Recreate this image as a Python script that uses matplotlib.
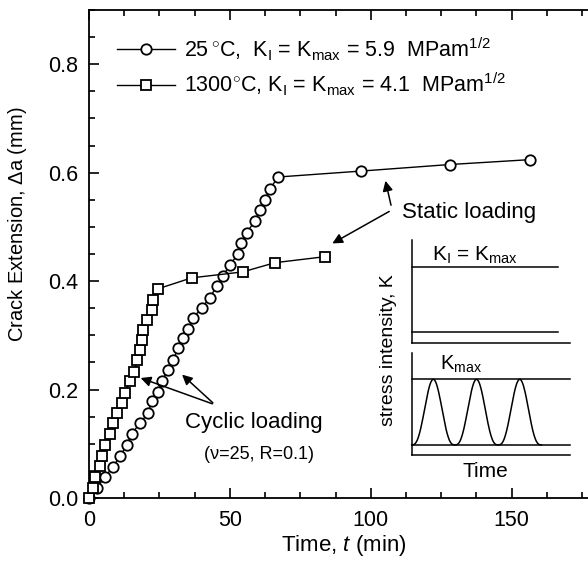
import numpy as np
import matplotlib
matplotlib.use("Agg")
import matplotlib.pyplot as plt
from matplotlib.ticker import MultipleLocator, FormatStrFormatter

plt.rcParams['font.family'] = ['Liberation Sans', 'DejaVu Sans']
plt.rcParams['mathtext.fontset'] = 'custom'
plt.rcParams['mathtext.rm'] = 'Liberation Sans'
plt.rcParams['mathtext.it'] = 'Liberation Sans:italic'
plt.rcParams['mathtext.bf'] = 'Liberation Sans:bold'

# 25 C, K_I = K_max = 5.9 MPam^1/2  (circles)
t_25 = [0, 2.7, 5.7, 8.6, 11.0, 13.4, 15.1, 18.1, 21.0, 22.2,
        24.6, 25.8, 28.0, 29.9, 31.7, 33.4, 35.2, 37.0, 40.0, 42.9,
        45.3, 47.6, 50.0, 52.9, 54.1, 55.9, 58.9, 60.6, 62.4, 64.2,
        67.1, 96.7, 128.0, 156.4]
da_25 = [0, 0.018, 0.039, 0.058, 0.077, 0.098, 0.118, 0.138, 0.157, 0.178,
         0.196, 0.215, 0.236, 0.255, 0.277, 0.295, 0.312, 0.332, 0.351, 0.369,
         0.391, 0.410, 0.430, 0.450, 0.470, 0.489, 0.511, 0.531, 0.550, 0.570,
         0.592, 0.603, 0.615, 0.624]

# 1300 C, K_I = K_max = 4.1 MPam^1/2  (squares)
t_1300 = [0, 1.3, 2.1, 3.9, 4.5, 5.7, 7.4, 8.5, 9.8, 11.6,
          12.8, 14.5, 16.0, 17.2, 18.0, 18.7, 19.3, 20.5, 22.2, 22.8,
          24.6, 36.4, 54.6, 66.0, 83.7]
da_1300 = [0, 0.018, 0.039, 0.059, 0.077, 0.098, 0.118, 0.138, 0.157, 0.175,
           0.194, 0.215, 0.233, 0.255, 0.273, 0.292, 0.310, 0.328, 0.347, 0.365,
           0.386, 0.406, 0.417, 0.434, 0.445]

# inset schematic levels (inset axes units)
static_hi, static_lo = 0.876, 0.573
cyc_hi, cyc_lo = 0.352, 0.047
n_cycles = 3

fig = plt.figure(figsize=(5.88, 5.62), dpi=100)
ax = fig.add_axes([89/588, 64/562, 510/588, 488/562])

mk = dict(color='black', markerfacecolor='white', markeredgecolor='black',
          markersize=7.5, markeredgewidth=1.3, linewidth=1.0, clip_on=False)
ax.plot(t_25, da_25, marker='o', zorder=3,
        label=r'25$\,^{\circ}$C,  K$_{\rm I}$ = K$_{\rm max}$ = 5.9  MPam$^{1/2}$', **mk)
ax.plot(t_1300, da_1300, marker='s', zorder=4,
        label=r'1300$^{\circ}$C, K$_{\rm I}$ = K$_{\rm max}$ = 4.1  MPam$^{1/2}$', **mk)

ax.set_xlim(0, 181)
ax.set_ylim(0, 0.9)
ax.xaxis.set_major_locator(MultipleLocator(50))
ax.xaxis.set_minor_locator(MultipleLocator(12.5))
ax.yaxis.set_major_locator(MultipleLocator(0.2))
ax.yaxis.set_minor_locator(MultipleLocator(0.05))
ax.yaxis.set_major_formatter(FormatStrFormatter('%.1f'))
ax.tick_params(which='both', direction='in', top=True, right=True, width=1.2)
ax.tick_params(which='major', length=7, labelsize=15.5)
ax.tick_params(axis='x', which='major', pad=9)
ax.tick_params(axis='y', which='major', pad=8)
ax.tick_params(which='minor', length=4)
for s in ax.spines.values():
    s.set_linewidth(1.3)

ax.set_xlabel(r'Time, $t$ (min)', fontsize=16, labelpad=1)
ax.set_ylabel(r'Crack Extension, $\Delta$a (mm)', fontsize=14.5)
ax.yaxis.set_label_coords(-0.118, 0.56)

ax.legend(loc='upper left', bbox_to_anchor=(0.025, 0.979), frameon=False,
          fontsize=15.5, handlelength=2.7, handletextpad=0.4, labelspacing=0.38,
          borderaxespad=0.3)

arr = dict(arrowstyle='-|>', color='black', lw=1.1, mutation_scale=15)
ax.annotate('', xy=(105, 0.590), xytext=(107.4, 0.535), arrowprops=arr)
ax.annotate('', xy=(85.5, 0.467), xytext=(107.4, 0.531), arrowprops=arr)
ax.text(111, 0.527, 'Static loading', fontsize=16, va='center')

ax.annotate('', xy=(17.4, 0.223), xytext=(44.7, 0.172), arrowprops=arr)
ax.annotate('', xy=(32.3, 0.231), xytext=(44.7, 0.172), arrowprops=arr)
ax.text(58.5, 0.140, 'Cyclic loading', fontsize=16, ha='center', va='center')
ax.text(60.5, 0.080, '(\u03bd=25, R=0.1)', fontsize=13, ha='center', va='center')

# inset schematic
ins = fig.add_axes([411.7/588, 1 - 455/562, 158.3/588, 215/562])
ins.set_xlim(0, 1)
ins.set_ylim(0, 1)
ins.axis('off')
lk = dict(color='black', lw=1.1, clip_on=False)
ins.plot([0, 0], [0.521, 1.0], **lk)
ins.plot([0, 1.0], [0.521, 0.521], **lk)
ins.plot([0, 0.924], [static_hi, static_hi], **lk)
ins.plot([0, 0.924], [static_lo, static_lo], **lk)
ins.plot([0, 0], [0, 0.474], **lk)
ins.plot([0, 1.0], [0, 0], **lk)
ins.plot([0, 1.0], [cyc_hi, cyc_hi], **lk)
ins.plot([0, 1.0], [cyc_lo, cyc_lo], **lk)
period = 0.273
xw = np.linspace(0, n_cycles * period, 300)
wave = cyc_lo + (cyc_hi - cyc_lo) * ((1 - np.cos(2 * np.pi * xw / period)) / 2) ** 1.4
ins.plot(xw, wave, **lk)
ins.text(0.13, 0.93, r'K$_{\rm I}$ = K$_{\rm max}$', fontsize=15, va='center')
ins.text(0.18, 0.42, r'K$_{\rm max}$', fontsize=14.5, va='center')
ins.text(-0.145, 0.49, 'stress intensity, K', fontsize=14, rotation=90,
         ha='center', va='center')
ins.text(0.465, -0.075, 'Time', fontsize=15, ha='center', va='center')

fig.savefig('out.png', dpi=100)
